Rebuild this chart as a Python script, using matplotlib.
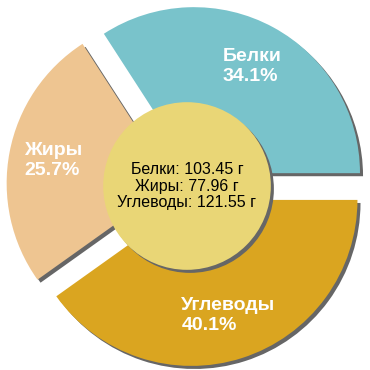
import matplotlib
matplotlib.use("Agg")
import matplotlib.pyplot as plt
import matplotlib.patheffects as pe
import numpy as np

categories = ["Белки", "Жиры", "Углеводы"]
grams = [103.45, 77.96, 121.55]
percents = [34.1, 25.7, 40.1]
colors = ["#79C3CB", "#EEC591", "#DAA520"]
center_color = "#E9D676"
shadow_color = "#666666"

plt.rcParams['font.family'] = ['Liberation Sans', 'DejaVu Sans']

fig = plt.figure(figsize=(3.7, 3.7), dpi=100)
ax = fig.add_axes([0, 0, 1, 1])
ax.set_aspect('equal')
ax.axis('off')

explode = [0.088] * len(categories)
shadow = [pe.SimplePatchShadow(offset=(2.2, -2.2), shadow_rgbFace=shadow_color, alpha=1.0), pe.Normal()]

wedges, _ = ax.pie(percents, colors=colors, startangle=0, counterclock=True,
                   explode=explode, radius=1.0, wedgeprops=dict(linewidth=0))
for w in wedges:
    w.set_path_effects(shadow)

circle = plt.Circle((0, 0), 0.505, color=center_color, linewidth=0, zorder=3)
circle.set_path_effects(shadow)
ax.add_patch(circle)

center_text = "\n".join(f"{c}: {g:.2f} г" for c, g in zip(categories, grams))
ax.text(0.0, 0.0, center_text, ha='center', va='center', fontsize=11.5,
        color='black', linespacing=1.15, zorder=4)

total = sum(percents)
start = 0.0
for c, p, e in zip(categories, percents, explode):
    mid = np.deg2rad(start + 360 * p / total / 2)
    start += 360 * p / total
    r = 0.73
    x = (r + e) * np.cos(mid)
    y = (r + e) * np.sin(mid)
    ax.text(x, y, f"{c}\n{p}%", ha='center', va='center', multialignment='left',
            fontsize=14, fontweight='bold', color='white', linespacing=1.2, zorder=4)

ax.set_xlim(-187 / 166, (370 - 187) / 166)
ax.set_ylim(-(370 - 186) / 166, 186 / 166)

fig.savefig("out.png", dpi=100, facecolor='white')
